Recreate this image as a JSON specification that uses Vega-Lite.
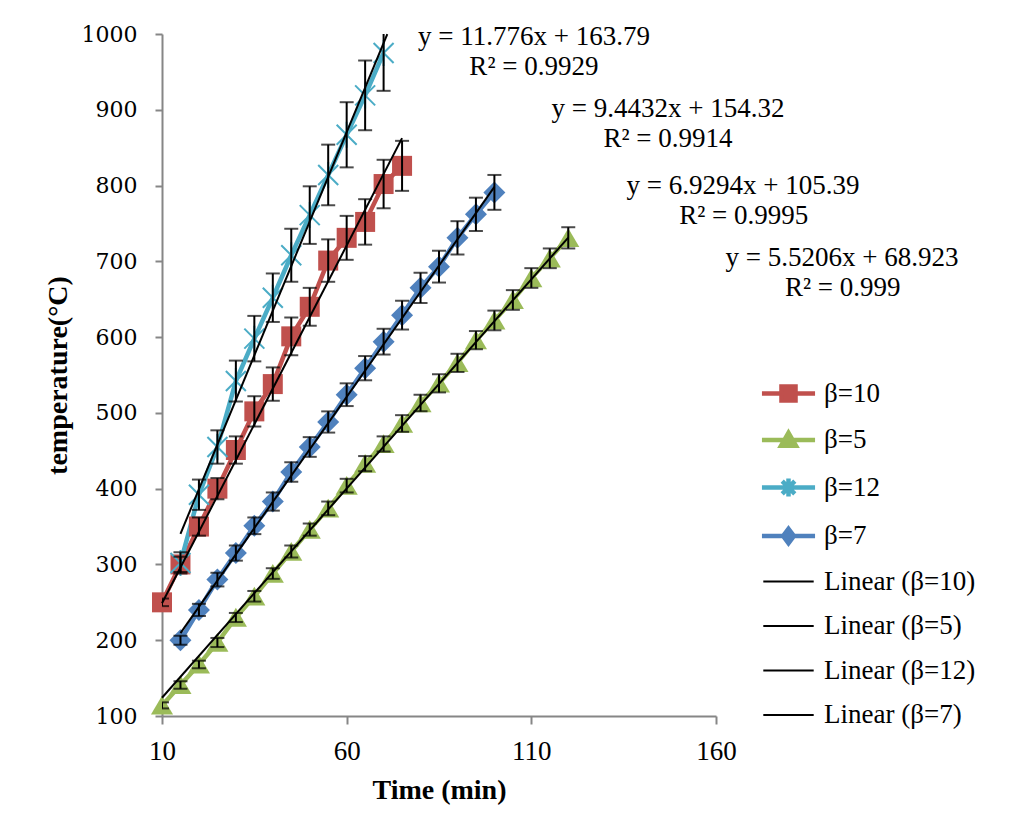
{
  "$schema": "https://vega.github.io/schema/vega-lite/v6.json",
  "width": 554,
  "height": 682,
  "autosize": "none",
  "padding": {"left": 162, "top": 34, "right": 296, "bottom": 120},
  "background": "white",
  "config": {
    "view": {"stroke": null},
    "font": "Liberation Serif",
    "legend": {
      "orient": "none", "legendX": 613, "legendY": 346, "title": null, "padding": 0,
      "symbolSize": 324, "symbolOpacity": 1,
      "labelFont": "Liberation Serif", "labelFontSize": 27, "labelColor": "black", "labelOffset": 22, "labelLimit": 300,
      "rowPadding": 13.5
    }
  },
  "datasets": {
    "pts": [
      {"s": "β=10", "t": 10, "v": 250, "e": 5},
      {"s": "β=10", "t": 15, "v": 300, "e": 10},
      {"s": "β=10", "t": 20, "v": 350, "e": 12},
      {"s": "β=10", "t": 25, "v": 400, "e": 14},
      {"s": "β=10", "t": 30, "v": 451, "e": 18},
      {"s": "β=10", "t": 35, "v": 502, "e": 20},
      {"s": "β=10", "t": 40, "v": 538, "e": 22},
      {"s": "β=10", "t": 45, "v": 601, "e": 25},
      {"s": "β=10", "t": 50, "v": 640, "e": 25},
      {"s": "β=10", "t": 55, "v": 701, "e": 28},
      {"s": "β=10", "t": 60, "v": 731, "e": 29},
      {"s": "β=10", "t": 65, "v": 752, "e": 30},
      {"s": "β=10", "t": 70, "v": 802, "e": 32},
      {"s": "β=10", "t": 75, "v": 826, "e": 33},
      {"s": "β=5", "t": 10, "v": 114, "e": 4},
      {"s": "β=5", "t": 15, "v": 141, "e": 5},
      {"s": "β=5", "t": 20, "v": 168, "e": 5},
      {"s": "β=5", "t": 25, "v": 197, "e": 6},
      {"s": "β=5", "t": 30, "v": 230, "e": 6},
      {"s": "β=5", "t": 35, "v": 258, "e": 7},
      {"s": "β=5", "t": 40, "v": 288, "e": 7},
      {"s": "β=5", "t": 45, "v": 317, "e": 8},
      {"s": "β=5", "t": 50, "v": 346, "e": 8},
      {"s": "β=5", "t": 55, "v": 374, "e": 9},
      {"s": "β=5", "t": 60, "v": 404, "e": 9},
      {"s": "β=5", "t": 65, "v": 433, "e": 10},
      {"s": "β=5", "t": 70, "v": 459, "e": 10},
      {"s": "β=5", "t": 75, "v": 486, "e": 11},
      {"s": "β=5", "t": 80, "v": 513, "e": 11},
      {"s": "β=5", "t": 85, "v": 539, "e": 12},
      {"s": "β=5", "t": 90, "v": 566, "e": 12},
      {"s": "β=5", "t": 95, "v": 596, "e": 12},
      {"s": "β=5", "t": 100, "v": 622, "e": 13},
      {"s": "β=5", "t": 105, "v": 649, "e": 13},
      {"s": "β=5", "t": 110, "v": 678, "e": 13},
      {"s": "β=5", "t": 115, "v": 704, "e": 13},
      {"s": "β=5", "t": 120, "v": 731, "e": 14},
      {"s": "β=12", "t": 15, "v": 302, "e": 14},
      {"s": "β=12", "t": 20, "v": 392, "e": 20},
      {"s": "β=12", "t": 25, "v": 455, "e": 22},
      {"s": "β=12", "t": 30, "v": 542, "e": 27},
      {"s": "β=12", "t": 35, "v": 598, "e": 30},
      {"s": "β=12", "t": 40, "v": 652, "e": 32},
      {"s": "β=12", "t": 45, "v": 708, "e": 35},
      {"s": "β=12", "t": 50, "v": 761, "e": 38},
      {"s": "β=12", "t": 55, "v": 814, "e": 40},
      {"s": "β=12", "t": 60, "v": 867, "e": 43},
      {"s": "β=12", "t": 65, "v": 919, "e": 46},
      {"s": "β=12", "t": 70, "v": 975, "e": 50},
      {"s": "β=7", "t": 15, "v": 200, "e": 6},
      {"s": "β=7", "t": 20, "v": 240, "e": 8},
      {"s": "β=7", "t": 25, "v": 280, "e": 9},
      {"s": "β=7", "t": 30, "v": 315, "e": 10},
      {"s": "β=7", "t": 35, "v": 351, "e": 11},
      {"s": "β=7", "t": 40, "v": 383, "e": 12},
      {"s": "β=7", "t": 45, "v": 422, "e": 13},
      {"s": "β=7", "t": 50, "v": 455, "e": 13},
      {"s": "β=7", "t": 55, "v": 488, "e": 14},
      {"s": "β=7", "t": 60, "v": 524, "e": 15},
      {"s": "β=7", "t": 65, "v": 559, "e": 16},
      {"s": "β=7", "t": 70, "v": 594, "e": 17},
      {"s": "β=7", "t": 75, "v": 629, "e": 19},
      {"s": "β=7", "t": 80, "v": 665, "e": 20},
      {"s": "β=7", "t": 85, "v": 693, "e": 21},
      {"s": "β=7", "t": 90, "v": 731, "e": 22},
      {"s": "β=7", "t": 95, "v": 762, "e": 22},
      {"s": "β=7", "t": 100, "v": 791, "e": 23}
    ],
    "trend": [
      {"s": "Linear (β=10)", "t": 10, "v": 248.75},
      {"s": "Linear (β=10)", "t": 75, "v": 862.56},
      {"s": "Linear (β=5)", "t": 10, "v": 124.13},
      {"s": "Linear (β=5)", "t": 120, "v": 731.4},
      {"s": "Linear (β=12)", "t": 15, "v": 340.43},
      {"s": "Linear (β=12)", "t": 71, "v": 999.9},
      {"s": "Linear (β=7)", "t": 15, "v": 209.33},
      {"s": "Linear (β=7)", "t": 100, "v": 798.33}
    ],
    "eq": [
      {"label": "y = 11.776x + 163.79", "t": 110.7, "v": 996},
      {"label": "R² = 0.9929", "t": 110.7, "v": 957},
      {"label": "y = 9.4432x + 154.32", "t": 147, "v": 901},
      {"label": "R² = 0.9914", "t": 147, "v": 862},
      {"label": "y = 6.9294x + 105.39", "t": 167.3, "v": 800},
      {"label": "R² = 0.9995", "t": 167.5, "v": 760},
      {"label": "y = 5.5206x + 68.923", "t": 194.1, "v": 705},
      {"label": "R² = 0.999", "t": 194.3, "v": 665}
    ]
  },
  "encoding": {
    "x": {
      "field": "t", "type": "quantitative",
      "scale": {"domain": [10, 160], "nice": false, "zero": false},
      "axis": {
        "values": [10, 60, 110, 160], "grid": false, "title": "Time (min)", "labelFlush": false,
        "labelFont": "Liberation Serif", "labelFontSize": 27, "labelColor": "black", "labelPadding": 14,
        "domainColor": "#868686", "domainWidth": 2, "tickColor": "#868686", "tickWidth": 2, "tickSize": 8,
        "titleFont": "Liberation Serif", "titleFontSize": 28, "titleFontWeight": "bold", "titleColor": "black",
        "titleX": 277, "titleY": 74, "titleBaseline": "middle", "titleAlign": "center"
      }
    },
    "y": {
      "field": "v", "type": "quantitative",
      "scale": {"domain": [100, 1000], "nice": false, "zero": false},
      "axis": {
        "values": [100, 200, 300, 400, 500, 600, 700, 800, 900, 1000], "format": "d", "labelFlush": false,
        "grid": false, "title": "temperature(°C)",
        "labelFont": "DejaVu Serif", "labelFontSize": 22, "labelColor": "black", "labelPadding": 18,
        "domainColor": "#868686", "domainWidth": 2, "tickColor": "#868686", "tickWidth": 2, "tickSize": 7,
        "titleFont": "Liberation Serif", "titleFontSize": 28, "titleFontWeight": "bold", "titleColor": "black",
        "titleX": -104, "titleY": 341, "titleBaseline": "middle", "titleAlign": "center", "titleAngle": -90
      }
    }
  },
  "layer": [
    {
      "data": {"name": "pts"},
      "mark": {"type": "point", "filled": true},
      "encoding": {
        "opacity": {"value": 0},
        "fill": {
          "field": "s", "type": "nominal",
          "scale": {
            "domain": ["β=10", "β=5", "β=12", "β=7", "Linear (β=10)", "Linear (β=5)", "Linear (β=12)", "Linear (β=7)"],
            "range": ["#C0504D", "#9BBB59", "#4BACC6", "#4F81BD", "black", "black", "black", "black"]
          }
        },
        "stroke": {
          "field": "s", "type": "nominal",
          "scale": {
            "domain": ["β=10", "β=5", "β=12", "β=7", "Linear (β=10)", "Linear (β=5)", "Linear (β=12)", "Linear (β=7)"],
            "range": ["#C0504D", "#9BBB59", "#4BACC6", "#4F81BD", "black", "black", "black", "black"]
          }
        },
        "strokeWidth": {
          "field": "s", "type": "nominal",
          "scale": {
            "type": "ordinal",
            "domain": ["β=10", "β=5", "β=12", "β=7", "Linear (β=10)", "Linear (β=5)", "Linear (β=12)", "Linear (β=7)"],
            "range": [4.5, 4.5, 4.5, 4.5, 2, 2, 2, 2]
          }
        },
        "shape": {
          "field": "s", "type": "nominal",
          "scale": {
            "domain": ["β=10", "β=5", "β=12", "β=7", "Linear (β=10)", "Linear (β=5)", "Linear (β=12)", "Linear (β=7)"],
            "range": [
              "M-2.95,0H2.95M-0.78,-0.78H0.78V0.78H-0.78Z",
              "M-2.95,0H2.95M0,-0.8L0.83,0.65H-0.83Z",
              "M-2.95,0H2.95M-0.7,-0.7L0.7,0.7M-0.7,0.7L0.7,-0.7M0,-1L0,1",
              "M-2.95,0H2.95M0,-0.8L0.6,0L0,0.8L-0.6,0Z",
              "M-2.8,0H2.8M0,-1.2M0,1.2",
              "M-2.8,0H2.8M0,-1.2M0,1.2",
              "M-2.8,0H2.8M0,-1.2M0,1.2",
              "M-2.8,0H2.8M0,-1.2M0,1.2"
            ]
          }
        }
      }
    },
    {
      "data": {"name": "pts"},
      "mark": {"type": "line", "strokeWidth": 4.5},
      "encoding": {
        "stroke": {"field": "s", "type": "nominal"}
      }
    },
    {
      "data": {"name": "pts"},
      "transform": [{"filter": "datum.s == 'β=10'"}],
      "mark": {"type": "point", "shape": "M-1,-1H1V1H-1Z", "size": 400, "filled": true, "color": "#C0504D", "opacity": 1}
    },
    {
      "data": {"name": "pts"},
      "transform": [{"filter": "datum.s == 'β=5'"}],
      "mark": {"type": "point", "shape": "M0,-1L1.15,0.95H-1.15Z", "size": 370, "filled": true, "color": "#9BBB59", "opacity": 1}
    },
    {
      "data": {"name": "pts"},
      "transform": [{"filter": "datum.s == 'β=12'"}],
      "mark": {"type": "point", "shape": "M-1,-1L1,1M-1,1L1,-1M0,-1.3L0,1.3", "size": 400, "filled": false, "color": "#4BACC6", "strokeWidth": 2, "opacity": 1}
    },
    {
      "data": {"name": "pts"},
      "transform": [{"filter": "datum.s == 'β=7'"}],
      "mark": {"type": "point", "shape": "M0,-1.1L1.1,0L0,1.1L-1.1,0Z", "size": 400, "filled": true, "color": "#4F81BD", "opacity": 1}
    },
    {
      "data": {"name": "pts"},
      "mark": {"type": "errorbar", "ticks": {"size": 14, "thickness": 2, "color": "black"}, "rule": {"strokeWidth": 2, "color": "black"}, "color": "black", "clip": true},
      "encoding": {
        "yError": {"field": "e"}
      }
    },
    {
      "data": {"name": "trend"},
      "mark": {"type": "line", "strokeWidth": 2},
      "encoding": {
        "stroke": {"field": "s", "type": "nominal"}
      }
    },
    {
      "data": {"name": "eq"},
      "mark": {"type": "text", "font": "Liberation Serif", "fontSize": 27, "align": "center", "baseline": "middle", "color": "black"},
      "encoding": {"text": {"field": "label"}}
    }
  ]
}
